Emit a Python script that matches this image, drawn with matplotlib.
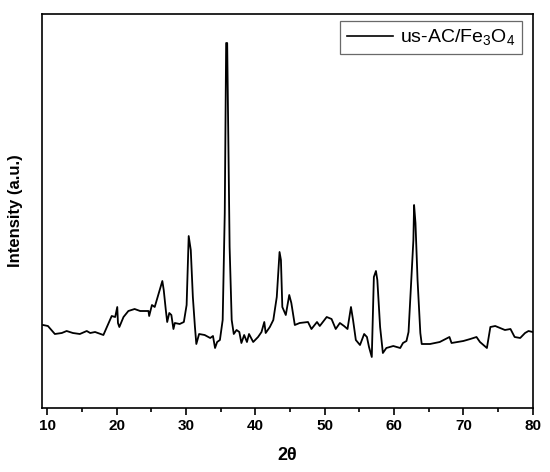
import matplotlib
matplotlib.use("Agg")
from matplotlib import pyplot as plt
from matplotlib.ticker import MultipleLocator

plt.rcParams['font.family'] = ['Liberation Sans', 'DejaVu Sans']
plt.rcParams['mathtext.fontset'] = 'custom'
plt.rcParams['mathtext.rm'] = 'Liberation Sans'

############## Data ##############

two_theta = [9.4, 10.1, 11.1, 12.1, 12.8, 13.7, 14.7, 15.7, 16.2, 16.9, 18.1, 18.6,
             19.3, 19.8, 20.1, 20.2, 20.4, 21.0, 21.7, 22.6, 23.4, 24.6, 24.7, 25.1,
             25.5, 26.0, 26.6, 26.8, 27.1, 27.3, 27.6, 27.9, 28.2, 28.4, 29.1, 29.7,
             30.1, 30.4, 30.7, 31.0, 31.3, 31.5, 31.9, 32.7, 33.5, 33.9, 34.2, 34.5,
             34.9, 35.3, 35.6, 35.8, 35.95, 36.3, 36.6, 36.9, 37.3, 37.7, 38.0, 38.4,
             38.8, 39.1, 39.7, 40.4, 40.9, 41.3, 41.5, 42.1, 42.6, 43.1, 43.5, 43.7,
             43.9, 44.4, 44.9, 45.2, 45.7, 46.4, 47.6, 48.1, 48.9, 49.3, 50.3, 51.0,
             51.6, 52.2, 52.8, 53.3, 53.8, 54.1, 54.5, 55.1, 55.7, 56.1, 56.4, 56.8,
             57.1, 57.4, 57.6, 58.0, 58.4, 58.9, 59.9, 60.9, 61.3, 61.8, 62.1, 62.4,
             62.8, 62.9, 63.1, 63.4, 63.8, 64.0, 65.2, 66.6, 68.0, 68.3, 70.0, 71.0,
             71.9, 72.4, 73.4, 73.9, 74.6, 75.3, 76.0, 76.8, 77.4, 78.2, 78.9, 79.4,
             80.0]
intensity = [83, 82, 74, 75, 77, 75, 74, 77, 75, 76, 73, 81,
             92, 91, 101, 85, 81, 91, 97, 99, 97, 97, 92, 103,
             101, 113, 127, 118, 98, 86, 95, 93, 79, 85, 84, 86,
             103, 172, 158, 111, 81, 64, 74, 73, 70, 72, 60, 66,
             68, 88, 195, 365, 365, 161, 88, 74, 78, 76, 65, 73,
             66, 74, 66, 71, 76, 86, 75, 81, 88, 111, 156, 148,
             101, 93, 113, 105, 83, 85, 86, 79, 86, 82, 91, 89,
             79, 85, 82, 79, 101, 88, 68, 63, 74, 71, 61, 51,
             131, 137, 128, 81, 55, 60, 62, 60, 65, 67, 76, 115,
             168, 203, 185, 128, 75, 64, 64, 66, 71, 65, 67, 69,
             71, 66, 60, 81, 82, 80, 78, 79, 71, 70, 75, 77,
             76]

fig = plt.figure(figsize=(5.5, 4.72), dpi=100)
ax = fig.add_axes([0.0764, 0.1356, 0.8921, 0.8347])

ax.plot(two_theta, intensity, color='black', lw=1.3, label='us-AC/Fe$_3$O$_4$')

ax.set_xlim(9.25, 80)
ax.set_ylim(0, 394)

ax.xaxis.set_major_locator(MultipleLocator(10))
ax.xaxis.set_minor_locator(MultipleLocator(5))
ax.tick_params(axis='x', which='major', direction='out', length=5, width=1.2,
               labelsize=11, pad=3)
ax.tick_params(axis='x', which='minor', direction='out', length=3, width=1.2)
ax.set_yticks([])
for lbl in ax.get_xticklabels():
    lbl.set_fontweight('bold')
for sp in ax.spines.values():
    sp.set_linewidth(1.2)

ax.set_xlabel('2θ', fontsize=13, fontweight='bold', labelpad=10)
ax.set_ylabel('Intensity (a.u.)', fontsize=12, fontweight='bold', labelpad=14)

leg = ax.legend(loc='upper right', bbox_to_anchor=(0.978, 0.982), fontsize=14,
                frameon=True, fancybox=False, borderaxespad=0, borderpad=0.33,
                handlelength=2.4, handletextpad=0.35)
leg.get_frame().set_edgecolor('#444444')
leg.get_frame().set_linewidth(0.9)
leg.get_lines()[0].set_linewidth(1.2)

plt.savefig('out.png')
